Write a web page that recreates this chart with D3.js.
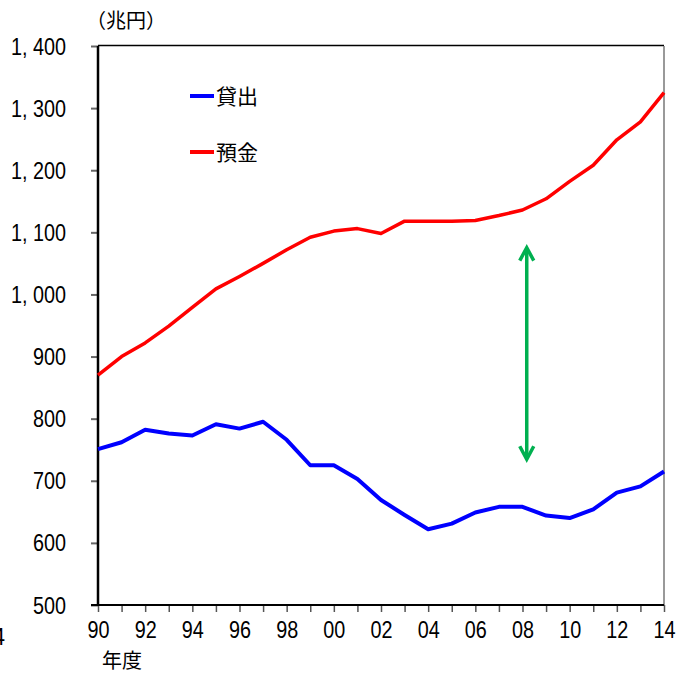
<!DOCTYPE html>
<html>
<head>
<meta charset="utf-8">
<script src="https://cdn.jsdelivr.net/npm/d3@7"></script>
<style>
  html, body { margin: 0; padding: 0; background: #fff; }
  svg { display: block; }
  .num { font-family: "Liberation Sans", Arial, sans-serif; font-size: 23px; fill: #000; }
  .jp { font-family: "Noto Sans CJK JP", "Noto Sans", sans-serif; font-size: 20px; fill: #000; }
</style>
</head>
<body>
<svg id="chart" width="677" height="673"></svg>
<script>
// Fiscal years 1990–2014
const years = d3.range(1990, 2015);
// Bank loans (貸出), trillion yen
const loans = [751, 762, 782, 776, 773, 791, 784, 795, 766, 725, 725, 703, 669,
               645, 622, 631, 649, 658, 658, 644, 640, 654, 681, 691, 715];
// Bank deposits (預金), trillion yen
const deposits = [870, 900, 922, 949, 979, 1009, 1029, 1050, 1072, 1092, 1102, 1106, 1098,
                  1118, 1118, 1118, 1119, 1127, 1136, 1154, 1182, 1208, 1249, 1278, 1325];
const yTicks = [500, 600, 700, 800, 900, 1000, 1100, 1200, 1300, 1400];
const seriesNames = ["貸出", "預金"];
const seriesColors = ["#0000ff", "#ff0000"];
// Gap indicator between the two series (year, value at each end)
const gapArrow = { year: 2008.18, top: 1077, bottom: 733 };

const svg = d3.select("#chart");
const x = d3.scaleLinear().domain([1990, 2014]).range([98, 664]);
const y = d3.scaleLinear().domain([500, 1400]).range([605, 46]);

// Condensed numerals: squeeze the glyphs horizontally
function condense(sel) {
  sel.each(function () {
    const w = this.getComputedTextLength();
    d3.select(this).attr("textLength", w * 0.86).attr("lengthAdjust", "spacingAndGlyphs");
  });
}

// Frame: top and right edges
svg.append("line").attr("x1", x(1990)).attr("x2", x(2014)).attr("y1", y(1400) - 0.5).attr("y2", y(1400) - 0.5)
  .attr("stroke", "#000").attr("stroke-width", 1.5);
svg.append("line").attr("x1", x(2014)).attr("x2", x(2014)).attr("y1", y(1400)).attr("y2", y(500))
  .attr("stroke", "#777").attr("stroke-width", 1.5);

// Y axis
const yAxis = svg.append("g").attr("transform", `translate(${x(1990)},0)`)
  .call(d3.axisLeft(y).tickValues(yTicks).tickSize(7).tickPadding(25)
    .tickFormat(d => d3.format(",")(d).replace(",", ", ")));
yAxis.select(".domain").remove();
yAxis.selectAll(".tick line").attr("stroke", "#666").attr("stroke-width", 2);
yAxis.selectAll(".tick text").attr("class", "num").attr("font-size", null).attr("font-family", null)
  .attr("dy", "0.35em").call(condense);
svg.append("line").attr("x1", x(1990)).attr("x2", x(1990)).attr("y1", y(1400)).attr("y2", y(500) + 1)
  .attr("stroke", "#000").attr("stroke-width", 2.5);

// X axis
const xAxis = svg.append("g").attr("transform", `translate(0,${y(500)})`)
  .call(d3.axisBottom(x).tickValues(years).tickSize(7).tickPadding(10)
    .tickFormat(d => (d % 2 === 0 ? String(d % 100).padStart(2, "0") : "")));
xAxis.select(".domain").remove();
xAxis.selectAll(".tick line").attr("stroke", "#555").attr("stroke-width", 1.5);
xAxis.selectAll(".tick text").attr("class", "num").attr("font-size", null).attr("font-family", null)
  .attr("dy", "0.71em").filter(function () { return this.textContent !== ""; }).call(condense);
svg.append("line").attr("x1", x(1990) - 7).attr("x2", x(2014)).attr("y1", y(500)).attr("y2", y(500))
  .attr("stroke", "#000").attr("stroke-width", 2);

// Axis titles
svg.append("text").attr("class", "jp").attr("x", 86).attr("y", 28).text("（兆円）");
svg.append("text").attr("class", "jp").attr("x", 102).attr("y", 668).text("年度");
svg.append("text").attr("class", "num").attr("x", 5).attr("y", 645).attr("text-anchor", "end").text("14");

// Series lines
const line = d3.line().x((d, i) => x(years[i])).y(d => y(d));
[loans, deposits].forEach((vals, k) => {
  svg.append("path").datum(vals).attr("d", line).attr("fill", "none")
    .attr("stroke", seriesColors[k]).attr("stroke-width", k === 0 ? 4 : 3.5)
    .attr("stroke-linejoin", "round");
});

// Legend
const legendRows = [{ y: 96 }, { y: 152 }];
seriesNames.forEach((name, k) => {
  const g = svg.append("g").attr("transform", `translate(190,${legendRows[k].y})`);
  g.append("line").attr("x1", 0).attr("x2", 24).attr("stroke", seriesColors[k]).attr("stroke-width", 4);
  g.append("text").attr("class", "jp").attr("x", 26).attr("dy", "0.36em").style("font-size", "21px").text(name);
});

// Double-headed arrow marking the deposit–loan gap
const ax = x(gapArrow.year), ay1 = y(gapArrow.top), ay2 = y(gapArrow.bottom);
const green = "#00b050";
svg.append("line").attr("x1", ax).attr("x2", ax).attr("y1", ay1 + 2).attr("y2", ay2 - 2)
  .attr("stroke", green).attr("stroke-width", 3.5);
svg.append("path").attr("d", `M${ax - 7},${ay1 + 14}L${ax},${ay1 + 1}L${ax + 7},${ay1 + 14}`)
  .attr("fill", "none").attr("stroke", green).attr("stroke-width", 3.5).attr("stroke-linejoin", "miter");
svg.append("path").attr("d", `M${ax - 7},${ay2 - 14}L${ax},${ay2 - 1}L${ax + 7},${ay2 - 14}`)
  .attr("fill", "none").attr("stroke", green).attr("stroke-width", 3.5).attr("stroke-linejoin", "miter");
</script>
</body>
</html>
